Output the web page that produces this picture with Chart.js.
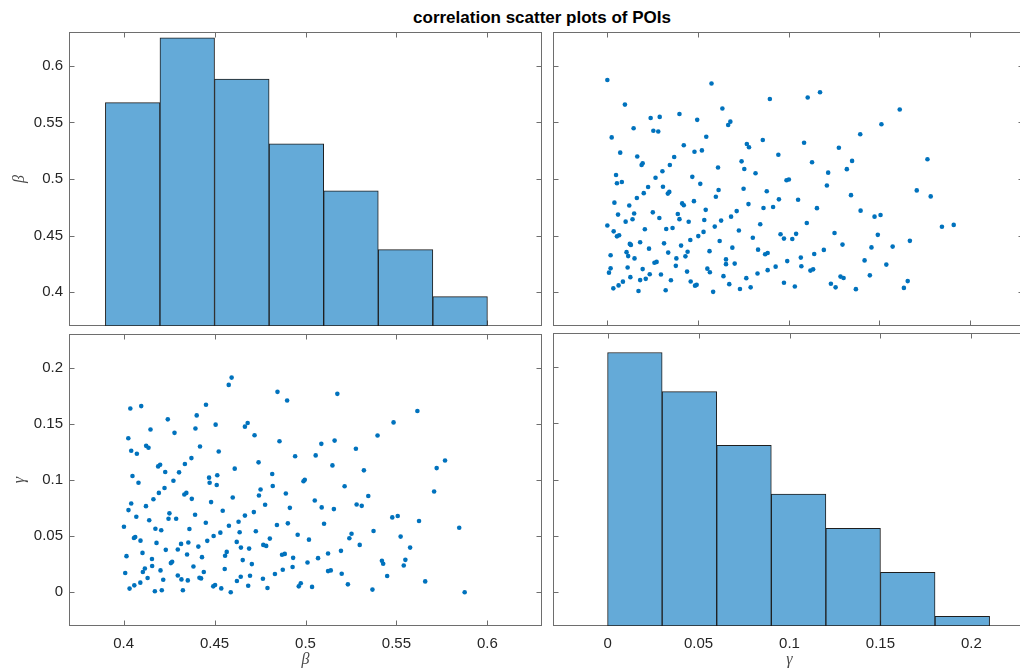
<!DOCTYPE html>
<html>
<head>
<meta charset="utf-8">
<script src="https://cdn.jsdelivr.net/npm/chart.js@4.4.1/dist/chart.umd.min.js"></script>
<style>
html,body{margin:0;padding:0;background:#fff;overflow:hidden;width:1020px;height:669px;position:relative;}
canvas{position:absolute;}
#title{position:absolute;left:342px;top:8px;width:400px;line-height:20px;text-align:center;font:bold 17px "Liberation Sans",Arial,sans-serif;color:#000;}
</style>
</head>
<body>
<div id="title">correlation scatter plots of POIs</div>
<canvas id="tl" width="548" height="330" style="left:0;top:0"></canvas>
<canvas id="tr" width="480" height="330" style="left:548px;top:0"></canvas>
<canvas id="bl" width="548" height="339" style="left:0;top:330px"></canvas>
<canvas id="br" width="480" height="339" style="left:548px;top:330px"></canvas>
<script>
// ---- data ----
const betaTicks = [0.4, 0.45, 0.5, 0.55, 0.6];
const gammaTicks = [0, 0.05, 0.1, 0.15, 0.2];
const betaBinCenters = [0.405, 0.435, 0.465, 0.495, 0.525, 0.555, 0.585];
const betaCounts = [38, 49, 42, 31, 23, 13, 5];
const gammaBinCenters = [0.015, 0.045, 0.075, 0.105, 0.135, 0.165, 0.195];
const gammaCounts = [56, 48, 37, 27, 20, 11, 2];
const betaVals = [
0.4594,0.4578,0.4037,0.4097,0.4453,0.4243,0.4402,0.4506,0.4667,0.4148,
0.4395,0.4280,0.4026,0.4124,0.4137,0.4420,0.4042,0.4073,0.4523,0.4373,
0.4337,0.4201,0.4190,0.4611,0.4229,0.4305,0.4049,0.4515,0.4470,0.4274,
0.4082,0.4473,0.4846,0.4899,0.5175,0.4682,0.4720,0.4857,0.5087,0.5160,
0.5396,0.5277,0.4943,0.5056,0.4742,0.5148,0.5321,0.4817,0.4996,0.4989,
0.5615,0.5484,0.5767,0.5721,0.4512,0.4225,0.4194,0.4345,0.4334,0.4164,
0.4375,0.4600,0.4042,0.4481,0.4123,0.4027,0.4545,0.4252,0.4393,0.4070,
0.4247,0.4289,0.4667,0.4141,0.4452,0.4632,0.4002,0.4579,0.4175,0.4207,
0.4362,0.4638,0.4532,0.4064,0.4057,0.4495,0.4093,0.4460,0.4622,0.4181,
0.4356,0.4316,0.4411,0.4645,0.4232,0.4298,0.4567,0.4104,0.4349,0.4558,
0.4016,0.4431,0.4156,0.4655,0.4267,0.4260,0.4384,0.4157,0.4117,0.4203,
0.4556,0.4106,0.4009,0.4441,0.4298,0.4132,0.4644,0.4417,0.4426,0.4218,
0.4318,0.4353,0.4623,0.4092,0.4059,0.4503,0.4493,0.4033,0.4537,0.4172,
0.4210,0.4326,0.4589,0.4820,0.5215,0.4753,0.4744,0.4892,0.5345,0.5051,
0.4778,0.5281,0.5309,0.4914,0.5089,0.5156,0.4716,0.4843,0.4903,0.5102,
0.4727,0.4957,0.5253,0.5374,0.4804,0.5019,0.5241,0.5298,0.4768,0.4784,
0.4690,0.5195,0.5124,0.4871,0.4886,0.4932,0.5069,0.5011,0.4705,0.4929,
0.4875,0.5124,0.5139,0.4832,0.5199,0.4695,0.4766,0.4974,0.4963,0.5233,
0.4685,0.4791,0.5036,0.5368,0.5707,0.5477,0.5507,0.5624,0.5845,0.5523,
0.5575,0.5420,0.5427,0.5549,0.5540,0.5449,0.5658,0.5875];
const gammaVals = [
0.1912,0.1847,0.1637,0.1658,0.1670,0.1540,0.1575,0.1493,0.1475,0.1449,
0.1458,0.1420,0.1372,0.1304,0.1287,0.1298,0.1260,0.1234,0.1254,0.1195,
0.1142,0.1136,0.1121,0.1101,0.1071,0.1068,0.1035,0.1042,0.1021,0.0993,
0.0975,0.0975,0.1785,0.1708,0.1767,0.1508,0.1398,0.1345,0.1322,0.1351,
0.1396,0.1278,0.1212,0.1219,0.1157,0.1130,0.1086,0.1053,0.1002,0.0989,
0.1614,0.1513,0.1174,0.1106,0.0956,0.0929,0.0885,0.0885,0.0871,0.0829,
0.0832,0.0844,0.0791,0.0803,0.0767,0.0732,0.0726,0.0703,0.0690,0.0673,
0.0655,0.0655,0.0683,0.0641,0.0620,0.0628,0.0584,0.0593,0.0566,0.0552,
0.0564,0.0535,0.0531,0.0493,0.0484,0.0502,0.0460,0.0458,0.0449,0.0440,
0.0443,0.0431,0.0407,0.0398,0.0378,0.0381,0.0360,0.0351,0.0336,0.0325,
0.0322,0.0313,0.0296,0.0287,0.0272,0.0260,0.0230,0.0234,0.0212,0.0195,
0.0207,0.0181,0.0172,0.0181,0.0150,0.0127,0.0139,0.0130,0.0124,0.0112,
0.0115,0.0106,0.0101,0.0086,0.0062,0.0065,0.0053,0.0033,0.0035,0.0009,
0.0018,0.0018,0.0000,0.0947,0.0944,0.0915,0.0862,0.0880,0.0858,0.0818,
0.0779,0.0782,0.0770,0.0752,0.0756,0.0741,0.0714,0.0599,0.0614,0.0611,
0.0543,0.0513,0.0522,0.0546,0.0478,0.0469,0.0481,0.0422,0.0422,0.0413,
0.0389,0.0369,0.0345,0.0334,0.0342,0.0307,0.0304,0.0266,0.0251,0.0225,
0.0201,0.0189,0.0195,0.0163,0.0165,0.0148,0.0121,0.0080,0.0053,0.0071,
0.0059,0.0039,0.0048,0.0024,0.0897,0.0667,0.0679,0.0635,0.0575,0.0496,
0.0398,0.0281,0.0254,0.0289,0.0239,0.0145,0.0097,0.0000];

// ---- styles ----
const BETA_RANGE = [0.37, 0.63];
const GAMMA_RANGE = [-0.03, 0.23];
const AXIS_COLOR = '#6e6e6e';
const TICK_FONT = {family: '"Liberation Sans", Arial, sans-serif', size: 15};
const LABEL_FONT = {family: '"Liberation Serif", "DejaVu Serif", serif', size: 16, style: 'italic'};
const DOT = '#0072bd';
const BAR = '#64aad8';

const fmt = v => String(+(+v).toFixed(4));
const setTicks = arr => (s => { s.ticks = arr.map(v => ({value: v})); });
const noPad = s => { s.paddingTop = 0; s.paddingBottom = 0; s.paddingLeft = 0; s.paddingRight = 0; };

const framePlugin = {
  id: 'frame',
  beforeDatasetsDraw(chart, args, o) {
    const {ctx, chartArea: a} = chart;
    const xs = chart.scales[o.xs], ys = chart.scales[o.ys];
    const L = Math.round(a.left) + 0.5, R = Math.round(a.right) - 0.5;
    const T = Math.round(a.top) + 0.5, B = Math.round(a.bottom) - 0.5;
    ctx.save();
    ctx.strokeStyle = AXIS_COLOR;
    ctx.lineWidth = 1;
    ctx.beginPath();
    o.xt.forEach(v => {
      const p = Math.round(xs.getPixelForValue(v)) + 0.5;
      ctx.moveTo(p, B); ctx.lineTo(p, B - 5);
      ctx.moveTo(p, T); ctx.lineTo(p, T + 5);
    });
    o.yt.forEach(v => {
      const p = Math.round(ys.getPixelForValue(v)) + 0.5;
      ctx.moveTo(L, p); ctx.lineTo(L + 5, p);
      ctx.moveTo(R, p); ctx.lineTo(R - 5, p);
    });
    ctx.stroke();
    ctx.strokeRect(L, T, R - L, B - T);
    ctx.restore();
  }
};

function linScale(range, ticks, extra) {
  return Object.assign({
    type: 'linear', min: range[0], max: range[1], offset: false,
    grid: {display: false, drawTicks: false}, border: {display: false},
    afterBuildTicks: setTicks(ticks),
    afterFit: noPad,
    ticks: {font: TICK_FONT, color: '#262626', padding: 6, callback: fmt, autoSkip: false, maxRotation: 0}
  }, extra || {});
}
function yLabelScale(range, ticks, title) {
  return linScale(range, ticks, {
    position: 'left', display: true,
    afterFit: s => { noPad(s); s.width = 69; },
    title: {display: true, text: title, font: LABEL_FONT, color: '#4a4a4a', padding: {top: 10, bottom: 0}}
  });
}
function xLabelScale(range, ticks, title) {
  return linScale(range, ticks, {
    position: 'bottom', display: true,
    afterFit: s => { noPad(s); s.height = 43; },
    ticks: {font: TICK_FONT, color: '#262626', padding: 9, callback: fmt, autoSkip: false, maxRotation: 0},
    title: {display: true, text: title, font: LABEL_FONT, color: '#4a4a4a', padding: {top: 0, bottom: 0}}
  });
}
const common = {
  responsive: false, animation: false, events: [],
  plugins: {legend: {display: false}, tooltip: {enabled: false}, title: {display: false}}
};
function opts(padding, scales, frame) {
  return Object.assign({}, common, {
    layout: {padding},
    scales,
    plugins: Object.assign({}, common.plugins, {frame})
  });
}
const scatterPts = (xa, ya) => xa.map((v, i) => ({x: v, y: ya[i]}));
const barPts = (c, n) => c.map((v, i) => ({x: v, y: n[i]}));

// top-left: histogram of beta
new Chart(document.getElementById('tl'), {
  type: 'bar',
  data: {datasets: [{data: barPts(betaBinCenters, betaCounts), yAxisID: 'yc', xAxisID: 'x',
    backgroundColor: BAR, borderColor: '#1e1e1e', borderWidth: 1, borderSkipped: false,
    barPercentage: 1, categoryPercentage: 1, grouped: false}]},
  options: opts({left: 0, top: 32, right: 6, bottom: 4}, {
    x: linScale(BETA_RANGE, betaTicks, {display: false}),
    y: yLabelScale(BETA_RANGE, betaTicks, 'β'),
    yc: {type: 'linear', min: 0, max: 50, display: false, afterFit: noPad}
  }, {xs: 'x', ys: 'y', xt: betaTicks, yt: betaTicks}),
  plugins: [framePlugin]
});

// top-right: gamma (x) vs beta (y)
new Chart(document.getElementById('tr'), {
  type: 'scatter',
  data: {datasets: [{data: scatterPts(gammaVals, betaVals), pointRadius: 2.3, borderWidth: 0,
    backgroundColor: DOT, pointBackgroundColor: DOT}]},
  options: opts({left: 5, top: 32, right: 2, bottom: 4}, {
    x: linScale(GAMMA_RANGE, gammaTicks, {display: false}),
    y: linScale(BETA_RANGE, betaTicks, {display: false})
  }, {xs: 'x', ys: 'y', xt: gammaTicks, yt: betaTicks}),
  plugins: [framePlugin]
});

// bottom-left: beta (x) vs gamma (y)
new Chart(document.getElementById('bl'), {
  type: 'scatter',
  data: {datasets: [{data: scatterPts(betaVals, gammaVals), pointRadius: 2.3, borderWidth: 0,
    backgroundColor: DOT, pointBackgroundColor: DOT}]},
  options: opts({left: 0, top: 3, right: 6, bottom: 0}, {
    x: xLabelScale(BETA_RANGE, betaTicks, 'β'),
    y: yLabelScale(GAMMA_RANGE, gammaTicks, 'γ')
  }, {xs: 'x', ys: 'y', xt: betaTicks, yt: gammaTicks}),
  plugins: [framePlugin]
});

// bottom-right: histogram of gamma
new Chart(document.getElementById('br'), {
  type: 'bar',
  data: {datasets: [{data: barPts(gammaBinCenters, gammaCounts), yAxisID: 'yc', xAxisID: 'x',
    backgroundColor: BAR, borderColor: '#1e1e1e', borderWidth: 1, borderSkipped: false,
    barPercentage: 1, categoryPercentage: 1, grouped: false}]},
  options: opts({left: 5, top: 3, right: 2, bottom: 0}, {
    x: xLabelScale(GAMMA_RANGE, gammaTicks, 'γ'),
    y: linScale(GAMMA_RANGE, gammaTicks, {display: false}),
    yc: {type: 'linear', min: 0, max: 60, display: false, afterFit: noPad}
  }, {xs: 'x', ys: 'y', xt: gammaTicks, yt: gammaTicks}),
  plugins: [framePlugin]
});
</script>
</body>
</html>
